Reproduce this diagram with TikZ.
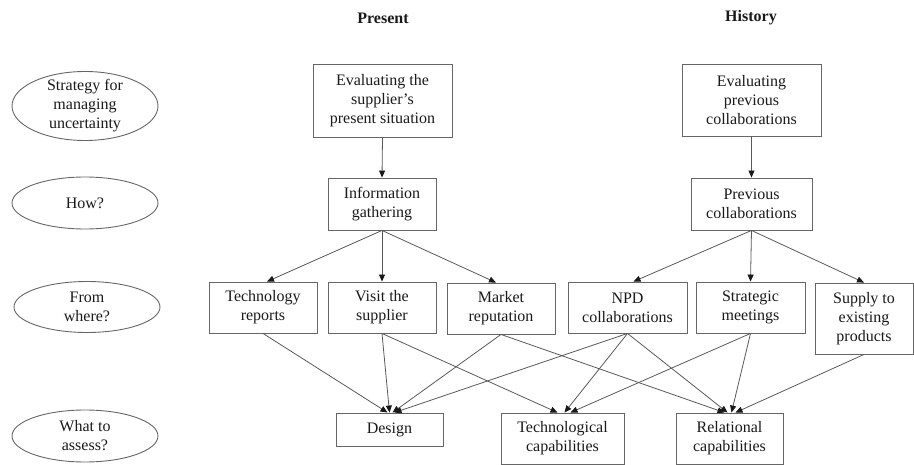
\documentclass[tikz,border=0pt]{standalone}
\usepackage{fontspec}
\setmainfont{Liberation Serif}
\usetikzlibrary{shapes.geometric,arrows.meta}

\begin{document}
\begin{tikzpicture}[x=1pt,y=-1pt,
  every node/.style={font=\fontsize{16}{19}\selectfont, text=black!90, align=center},
  box/.style={draw=black!60, line width=0.9pt, inner sep=0pt},
  oval/.style={ellipse, draw=black!60, line width=0.9pt, minimum width=146pt, inner sep=0pt, inner ysep=-4pt},
  head/.style={font=\fontsize{16}{19}\selectfont\bfseries},
  link/.style={draw=black!65, line width=0.8pt, -{Triangle[length=7pt,width=6pt,fill=black!90,color=black!90]}},
  ]
\useasboundingbox (0,0) rectangle (914,465);

% column headings
\node[head] (present) at (383,18) {Present};
\node[head] (history) at (751,18) {History};

% row questions
\node[oval, minimum height=69pt] (q1) at (85,106) {Strategy for\\managing\\uncertainty};
\node[oval, minimum height=52pt] (q2) at (85,203) {How?};
\node[oval, minimum height=51pt] (q3) at (87,307) {From\\where?};
\node[oval, minimum height=52pt] (q4) at (85,436) {What to\\assess?};

% strategies
\node[box, minimum width=139pt, minimum height=73pt] (eval1) at (382.5,100.5) {Evaluating the\\supplier’s\\present situation};
\node[box, minimum width=139pt, minimum height=72pt] (eval2) at (751.5,100) {Evaluating\\previous\\collaborations};

% how
\node[box, minimum width=108pt, minimum height=52pt] (info) at (382,204) {Information\\gathering};
\node[box, minimum width=121pt, minimum height=52pt] (prev) at (751.5,204) {Previous\\collaborations};

% sources
\node[box, minimum width=108pt, minimum height=51pt] (tech) at (263,307.5) {Technology\\reports};
\node[box, minimum width=108pt, minimum height=51pt] (visit) at (382,307.5) {Visit the\\supplier};
\node[box, minimum width=108pt, minimum height=51pt] (market) at (501,308.5) {Market\\reputation};
\node[box, minimum width=119pt, minimum height=51pt] (npd) at (627.5,307.5) {NPD\\collaborations};
\node[box, minimum width=109pt, minimum height=51pt] (strat) at (750.5,307.5) {Strategic\\meetings};
\node[box, minimum width=98pt, minimum height=71pt] (supply) at (864,318.5) {Supply to\\existing\\products};

% assessed aspects
\node[box, minimum width=107pt, minimum height=33pt] (design) at (389.5,429.5) {Design};
\node[box, minimum width=123pt, minimum height=51pt] (techcap) at (562.5,438.5) {Technological\\capabilities};
\node[box, minimum width=107pt, minimum height=51pt] (rel) at (729.5,438.5) {Relational\\capabilities};

% strategy -> how
\draw[link] (eval1.south) -- (info.north);
\draw[link] (eval2.south) -- (prev.north);

% how -> sources
\draw[link] (info.south) -- ([xshift=4pt]tech.north);
\draw[link] (info.south) -- (visit.north);
\draw[link] (info.south) -- ([xshift=-5pt]market.north);
\draw[link] (prev.south) -- ([xshift=6pt]npd.north);
\draw[link] (prev.south) -- (strat.north);
\draw[link] (prev.south) -- (supply.north);

% sources -> aspects
\draw[link] (tech.south) -- ([xshift=-2pt]design.north);
\draw[link] (visit.south) -- (design.north);
\draw[link] (visit.south) -- ([xshift=-5pt]techcap.north);
\draw[link] (market.south) -- ([xshift=3pt]design.north);
\draw[link] (market.south) -- ([xshift=-5pt]rel.north);
\draw[link] (npd.south) -- ([xshift=5pt]design.north);
\draw[link] (npd.south) -- ([xshift=2pt]techcap.north);
\draw[link] (npd.south) -- ([xshift=-2pt]rel.north);
\draw[link] (strat.south) -- ([xshift=8pt]techcap.north);
\draw[link] (strat.south) -- ([xshift=2pt]rel.north);
\draw[link] (supply.south) -- ([xshift=6pt]rel.north);
\end{tikzpicture}
\end{document}
